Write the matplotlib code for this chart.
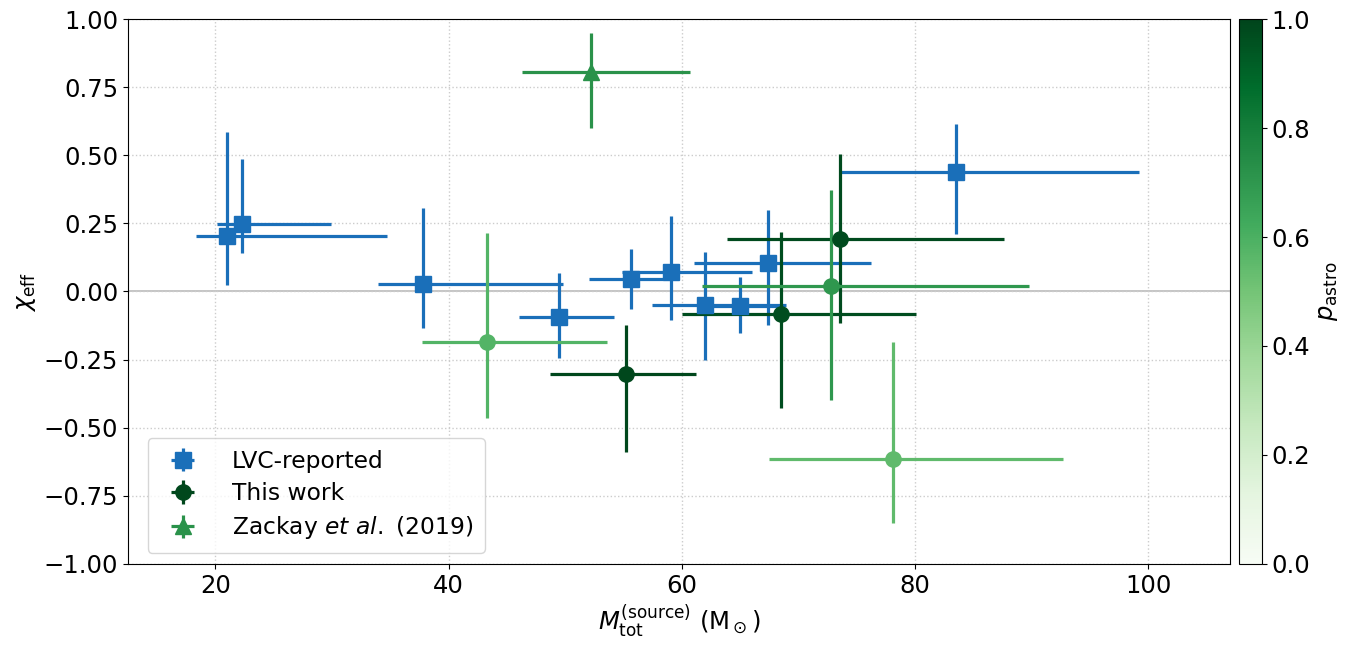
import matplotlib.pyplot as plt
import numpy as np

# LVC-reported events: total mass, chi_eff, and 90% bounds
lvc_m = [21.0, 22.3, 37.8, 49.5, 55.6, 59.1, 62.0, 65.0, 67.4, 83.5]
lvc_m_lo = [18.3, 20.1, 33.9, 46.0, 52.0, 54.9, 57.4, 62.2, 61.0, 73.6]
lvc_m_hi = [34.7, 29.9, 49.8, 54.2, 58.4, 66.0, 68.9, 68.5, 76.2, 99.2]
lvc_chi = [0.204, 0.248, 0.026, -0.092, 0.046, 0.073, -0.048, -0.053, 0.103, 0.437]
lvc_chi_lo = [0.024, 0.141, -0.135, -0.245, -0.064, -0.105, -0.251, -0.152, -0.123, 0.211]
lvc_chi_hi = [0.585, 0.486, 0.305, 0.067, 0.155, 0.276, 0.145, 0.053, 0.298, 0.615]

# This work
tw_m = [55.2, 68.5, 73.6]
tw_m_lo = [48.7, 60.0, 63.9]
tw_m_hi = [61.2, 80.1, 87.6]
tw_chi = [-0.303, -0.083, 0.193]
tw_chi_lo = [-0.589, -0.428, -0.116]
tw_chi_hi = [-0.123, 0.218, 0.505]
tw_p = [0.99, 0.97, 0.98]

# Zackay et al. (2019)
z_m = [52.2, 43.3, 72.8, 78.1]
z_m_lo = [46.3, 37.7, 61.7, 67.5]
z_m_hi = [60.7, 53.6, 89.8, 92.7]
z_chi = [0.807, -0.184, 0.020, -0.616]
z_chi_lo = [0.599, -0.465, -0.398, -0.850]
z_chi_hi = [0.950, 0.214, 0.372, -0.185]
z_p = [0.72, 0.58, 0.70, 0.55]
z_marker = ['^', 'o', 'o', 'o']

cmap = plt.cm.Greens
norm = plt.Normalize(0, 1)
blue = '#1a6fb9'

fig = plt.figure(figsize=(13.5, 6.49), dpi=100)
ax = fig.add_axes([0.0948, 0.131, 0.8163, 0.8397])
cax = fig.add_axes([0.9178, 0.131, 0.0170, 0.8397])

ax.axhline(0, color='#bbbbbb', lw=1.2, zorder=0)

ekw = dict(ls='none', elinewidth=2.3, capsize=0)

for i in range(len(lvc_m)):
    xe = [[lvc_m[i] - lvc_m_lo[i]], [lvc_m_hi[i] - lvc_m[i]]]
    ye = [[lvc_chi[i] - lvc_chi_lo[i]], [lvc_chi_hi[i] - lvc_chi[i]]]
    ax.errorbar(lvc_m[i], lvc_chi[i], xerr=xe, yerr=ye, marker='s', ms=12,
                color=blue, label='LVC-reported' if i == 0 else None, **ekw)

for i in range(len(tw_m)):
    xe = [[tw_m[i] - tw_m_lo[i]], [tw_m_hi[i] - tw_m[i]]]
    ye = [[tw_chi[i] - tw_chi_lo[i]], [tw_chi_hi[i] - tw_chi[i]]]
    ax.errorbar(tw_m[i], tw_chi[i], xerr=xe, yerr=ye, marker='o', ms=11,
                color=cmap(norm(tw_p[i])), label='This work' if i == 0 else None, **ekw)

for i in range(len(z_m)):
    xe = [[z_m[i] - z_m_lo[i]], [z_m_hi[i] - z_m[i]]]
    ye = [[z_chi[i] - z_chi_lo[i]], [z_chi_hi[i] - z_chi[i]]]
    ax.errorbar(z_m[i], z_chi[i], xerr=xe, yerr=ye, marker=z_marker[i], ms=11,
                color=cmap(norm(z_p[i])),
                label=r'Zackay $et\ al.$ (2019)' if i == 0 else None, **ekw)

ax.set_xlim(12.5, 107)
ax.set_ylim(-1, 1)
ax.set_xticks([20, 40, 60, 80, 100])
ax.set_yticks(np.arange(-1, 1.01, 0.25))
ax.yaxis.set_major_formatter(plt.FuncFormatter(lambda v, p: f'{v:.2f}'.replace('-', '\u2212')))
ax.grid(True, ls=':', color='#cccccc', lw=1)
ax.tick_params(labelsize=17.5)
ax.set_xlabel(r'$M_{\rm tot}^{\rm (source)}$ (M$_\odot$)', fontsize=17.5)
ax.set_ylabel(r'$\chi_{\rm eff}$', fontsize=17.5)

ax.legend(loc='lower left', fontsize=16.8, borderpad=0.5, handletextpad=1.1,
          labelspacing=0.4, borderaxespad=0, bbox_to_anchor=(0.018, 0.02))

sm = plt.cm.ScalarMappable(cmap=cmap, norm=norm)
cb = fig.colorbar(sm, cax=cax)
cb.set_ticks([0, 0.2, 0.4, 0.6, 0.8, 1.0])
cb.ax.tick_params(labelsize=17.5)
cb.set_label(r'$p_{\rm astro}$', fontsize=17.5)

fig.savefig('out.png', dpi=100)
